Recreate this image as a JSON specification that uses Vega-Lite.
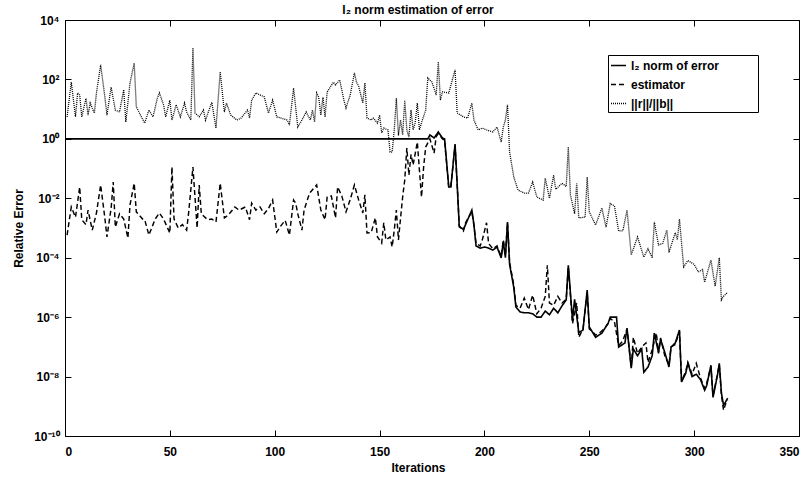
{
"$schema": "https://vega.github.io/schema/vega-lite/v6.json",
"width": 734, "height": 416,
"autosize": {"type": "none"},
"padding": {"left": 65, "top": 20, "right": 7, "bottom": 51},
"background": "white",
"config": {
  "view": {"stroke": "black", "strokeWidth": 1},
  "font": "Liberation Sans",
  "axis": {"domain": false, "grid": false, "tickColor": "black", "tickSize": -6, "tickWidth": 1, "labelFont": "Liberation Sans", "labelFontSize": 12, "labelFontWeight": "bold", "labelColor": "black", "titleFont": "Liberation Sans", "titleFontSize": 12, "titleFontWeight": "bold", "titleColor": "black"}
},
"title": {"text": "l₂ norm estimation of error", "fontSize": 12, "fontWeight": "bold", "font": "Liberation Sans", "color": "black", "offset": -3, "dx": -14},
"data": {"values": [
{"s":"r","i":1,"v":5.5},{"s":"r","i":3,"v":81},{"s":"r","i":5,"v":5.5},{"s":"r","i":6,"v":35},{"s":"r","i":7,"v":30},{"s":"r","i":8,"v":5.5},{"s":"r","i":10,"v":23},{"s":"r","i":11,"v":6.3},{"s":"r","i":12,"v":16},{"s":"r","i":14,"v":7.4},{"s":"r","i":15,"v":35},{"s":"r","i":17,"v":310},{"s":"r","i":19,"v":26},{"s":"r","i":20,"v":6.3},{"s":"r","i":22,"v":55},{"s":"r","i":24,"v":9.3},{"s":"r","i":26,"v":8},{"s":"r","i":28,"v":45},{"s":"r","i":29,"v":3.7},{"s":"r","i":31,"v":76},{"s":"r","i":33,"v":355},{"s":"r","i":34,"v":12},{"s":"r","i":36,"v":6.3},{"s":"r","i":38,"v":3.4},{"s":"r","i":40,"v":9.3},{"s":"r","i":42,"v":5.5},{"s":"r","i":44,"v":23},{"s":"r","i":45,"v":35},{"s":"r","i":47,"v":14},{"s":"r","i":48,"v":5.5},{"s":"r","i":50,"v":20},{"s":"r","i":51,"v":4.3},{"s":"r","i":53,"v":14},{"s":"r","i":55,"v":5.5},{"s":"r","i":57,"v":16},{"s":"r","i":58,"v":8},{"s":"r","i":60,"v":4.3},{"s":"r","i":61,"v":1150},{"s":"r","i":62,"v":7.4},{"s":"r","i":64,"v":5.5},{"s":"r","i":66,"v":9.3},{"s":"r","i":67,"v":4.3},{"s":"r","i":70,"v":17},{"s":"r","i":72,"v":2.3},{"s":"r","i":74,"v":180},{"s":"r","i":76,"v":8},{"s":"r","i":77,"v":16},{"s":"r","i":79,"v":6.3},{"s":"r","i":82,"v":4.3},{"s":"r","i":84,"v":5},{"s":"r","i":87,"v":9.3},{"s":"r","i":88,"v":5},{"s":"r","i":89,"v":20},{"s":"r","i":91,"v":35},{"s":"r","i":93,"v":30},{"s":"r","i":95,"v":26},{"s":"r","i":97,"v":7.4},{"s":"r","i":99,"v":20},{"s":"r","i":101,"v":5.5},{"s":"r","i":103,"v":5},{"s":"r","i":106,"v":4.3},{"s":"r","i":107,"v":2.9},{"s":"r","i":109,"v":51},{"s":"r","i":111,"v":2.5},{"s":"r","i":113,"v":4.3},{"s":"r","i":115,"v":8},{"s":"r","i":117,"v":4.3},{"s":"r","i":118,"v":9.3},{"s":"r","i":119,"v":3.7},{"s":"r","i":120,"v":35},{"s":"r","i":121,"v":25},{"s":"r","i":122,"v":6.3},{"s":"r","i":123,"v":25},{"s":"r","i":124,"v":5.5},{"s":"r","i":125,"v":38},{"s":"r","i":128,"v":81},{"s":"r","i":129,"v":65},{"s":"r","i":131,"v":96},{"s":"r","i":133,"v":20},{"s":"r","i":134,"v":11},{"s":"r","i":136,"v":30},{"s":"r","i":138,"v":165},{"s":"r","i":139,"v":81},{"s":"r","i":140,"v":60},{"s":"r","i":142,"v":16},{"s":"r","i":143,"v":76},{"s":"r","i":144,"v":5},{"s":"r","i":146,"v":4.3},{"s":"r","i":147,"v":5},{"s":"r","i":149,"v":3.4},{"s":"r","i":150,"v":6.3},{"s":"r","i":151,"v":1.6},{"s":"r","i":152,"v":2.3},{"s":"r","i":154,"v":2},{"s":"r","i":155,"v":0.36},{"s":"r","i":156,"v":0.36},{"s":"r","i":157,"v":2},{"s":"r","i":158,"v":23},{"s":"r","i":159,"v":1.3},{"s":"r","i":160,"v":4.3},{"s":"r","i":161,"v":1.35},{"s":"r","i":162,"v":20},{"s":"r","i":163,"v":2},{"s":"r","i":164,"v":1.15},{"s":"r","i":165,"v":9.3},{"s":"r","i":166,"v":2},{"s":"r","i":167,"v":3.5},{"s":"r","i":168,"v":16},{"s":"r","i":169,"v":2},{"s":"r","i":170,"v":3.5},{"s":"r","i":172,"v":9.3},{"s":"r","i":173,"v":112},{"s":"r","i":175,"v":81},{"s":"r","i":177,"v":30},{"s":"r","i":178,"v":390},{"s":"r","i":179,"v":20},{"s":"r","i":180,"v":38},{"s":"r","i":183,"v":35},{"s":"r","i":186,"v":210},{"s":"r","i":187,"v":7.4},{"s":"r","i":190,"v":5.5},{"s":"r","i":192,"v":5},{"s":"r","i":194,"v":16},{"s":"r","i":195,"v":4.3},{"s":"r","i":197,"v":2},{"s":"r","i":199,"v":2.3},{"s":"r","i":201,"v":2},{"s":"r","i":204,"v":1.7},{"s":"r","i":206,"v":2.5},{"s":"r","i":208,"v":0.78},{"s":"r","i":209,"v":2.5},{"s":"r","i":210,"v":4.3},{"s":"r","i":211,"v":14},{"s":"r","i":212,"v":0.36},{"s":"r","i":214,"v":0.052},{"s":"r","i":216,"v":0.019},{"s":"r","i":219,"v":0.015},{"s":"r","i":221,"v":0.015},{"s":"r","i":223,"v":0.035},{"s":"r","i":225,"v":0.011},{"s":"r","i":228,"v":0.0087},{"s":"r","i":229,"v":0.048},{"s":"r","i":231,"v":0.01},{"s":"r","i":233,"v":0.06},{"s":"r","i":234,"v":0.02},{"s":"r","i":237,"v":0.032},{"s":"r","i":239,"v":0.025},{"s":"r","i":240,"v":0.53},{"s":"r","i":241,"v":0.013},{"s":"r","i":243,"v":0.003},{"s":"r","i":244,"v":0.032},{"s":"r","i":245,"v":0.0022},{"s":"r","i":248,"v":0.0023},{"s":"r","i":249,"v":0.052},{"s":"r","i":250,"v":0.0035},{"s":"r","i":253,"v":0.00126},{"s":"r","i":256,"v":0.0047},{"s":"r","i":258,"v":0.00107},{"s":"r","i":260,"v":0.0067},{"s":"r","i":262,"v":0.0055},{"s":"r","i":264,"v":0.0008},{"s":"r","i":266,"v":0.0008},{"s":"r","i":268,"v":0.004},{"s":"r","i":270,"v":0.000124},{"s":"r","i":273,"v":0.0005},{"s":"r","i":276,"v":0.000105},{"s":"r","i":278,"v":0.0002},{"s":"r","i":280,"v":0.0001},{"s":"r","i":281,"v":0.0016},{"s":"r","i":283,"v":0.00027},{"s":"r","i":285,"v":0.0003},{"s":"r","i":287,"v":0.00085},{"s":"r","i":288,"v":0.00015},{"s":"r","i":291,"v":0.0007},{"s":"r","i":292,"v":0.0004},{"s":"r","i":293,"v":0.002},{"s":"r","i":295,"v":4.9e-5},{"s":"r","i":297,"v":8e-5},{"s":"r","i":300,"v":6e-5},{"s":"r","i":302,"v":3.3e-5},{"s":"r","i":304,"v":4e-5},{"s":"r","i":305,"v":1.5e-5},{"s":"r","i":308,"v":8.3e-5},{"s":"r","i":310,"v":1.1e-5},{"s":"r","i":312,"v":1e-4},{"s":"r","i":313,"v":3.8e-6},{"s":"r","i":314,"v":5e-6},{"s":"r","i":316,"v":6.9e-6},
{"s":"s","i":1,"v":0.00058},{"s":"s","i":3,"v":0.0051},{"s":"s","i":5,"v":0.0023},{"s":"s","i":7,"v":0.024},{"s":"s","i":8,"v":0.0019},{"s":"s","i":10,"v":0.0013},{"s":"s","i":11,"v":0.004},{"s":"s","i":13,"v":0.00085},{"s":"s","i":15,"v":0.0032},{"s":"s","i":17,"v":0.028},{"s":"s","i":19,"v":0.0022},{"s":"s","i":20,"v":0.0005},{"s":"s","i":22,"v":0.0047},{"s":"s","i":23,"v":0.035},{"s":"s","i":24,"v":0.00107},{"s":"s","i":26,"v":0.003},{"s":"s","i":28,"v":0.002},{"s":"s","i":30,"v":0.00046},{"s":"s","i":31,"v":0.006},{"s":"s","i":33,"v":0.032},{"s":"s","i":34,"v":0.0035},{"s":"s","i":37,"v":0.002},{"s":"s","i":38,"v":0.0019},{"s":"s","i":40,"v":0.00058},{"s":"s","i":43,"v":0.002},{"s":"s","i":45,"v":0.0032},{"s":"s","i":47,"v":0.002},{"s":"s","i":50,"v":0.00068},{"s":"s","i":51,"v":0.112},{"s":"s","i":52,"v":0.002},{"s":"s","i":54,"v":0.001},{"s":"s","i":56,"v":0.0013},{"s":"s","i":58,"v":0.00085},{"s":"s","i":59,"v":0.0035},{"s":"s","i":61,"v":0.112},{"s":"s","i":63,"v":0.001},{"s":"s","i":64,"v":0.028},{"s":"s","i":65,"v":0.003},{"s":"s","i":68,"v":0.0019},{"s":"s","i":70,"v":0.002},{"s":"s","i":72,"v":0.0016},{"s":"s","i":74,"v":0.032},{"s":"s","i":76,"v":0.0022},{"s":"s","i":78,"v":0.0028},{"s":"s","i":81,"v":0.0051},{"s":"s","i":83,"v":0.004},{"s":"s","i":86,"v":0.0051},{"s":"s","i":88,"v":0.0019},{"s":"s","i":89,"v":0.0069},{"s":"s","i":91,"v":0.004},{"s":"s","i":93,"v":0.0051},{"s":"s","i":95,"v":0.003},{"s":"s","i":97,"v":0.0045},{"s":"s","i":99,"v":0.0087},{"s":"s","i":101,"v":0.00073},{"s":"s","i":103,"v":0.0012},{"s":"s","i":105,"v":0.0018},{"s":"s","i":107,"v":0.00058},{"s":"s","i":109,"v":0.0087},{"s":"s","i":110,"v":0.0069},{"s":"s","i":111,"v":0.003},{"s":"s","i":113,"v":0.00085},{"s":"s","i":114,"v":0.004},{"s":"s","i":116,"v":0.011},{"s":"s","i":117,"v":0.016},{"s":"s","i":120,"v":0.028},{"s":"s","i":122,"v":0.004},{"s":"s","i":124,"v":0.0019},{"s":"s","i":125,"v":0.011},{"s":"s","i":127,"v":0.012},{"s":"s","i":129,"v":0.0022},{"s":"s","i":130,"v":0.024},{"s":"s","i":132,"v":0.012},{"s":"s","i":134,"v":0.0035},{"s":"s","i":136,"v":0.009},{"s":"s","i":138,"v":0.028},{"s":"s","i":140,"v":0.009},{"s":"s","i":142,"v":0.0032},{"s":"s","i":143,"v":0.013},{"s":"s","i":144,"v":0.00068},{"s":"s","i":146,"v":0.0007},{"s":"s","i":148,"v":0.0022},{"s":"s","i":149,"v":0.0005},{"s":"s","i":151,"v":0.00031},{"s":"s","i":152,"v":0.0015},{"s":"s","i":153,"v":0.0004},{"s":"s","i":155,"v":0.0005},{"s":"s","i":156,"v":0.00023},{"s":"s","i":157,"v":0.00085},{"s":"s","i":158,"v":0.004},{"s":"s","i":159,"v":0.0004},{"s":"s","i":161,"v":0.011},{"s":"s","i":162,"v":0.041},{"s":"s","i":163,"v":0.49},{"s":"s","i":164,"v":0.06},{"s":"s","i":165,"v":0.3},{"s":"s","i":166,"v":0.132},{"s":"s","i":168,"v":0.78},{"s":"s","i":169,"v":0.089},{"s":"s","i":170,"v":0.011},{"s":"s","i":171,"v":0.112},{"s":"s","i":172,"v":0.53},{"s":"s","i":174,"v":1.0},{"s":"s","i":176,"v":0.33},{"s":"s","i":177,"v":1.2},{"s":"s","i":178,"v":1.5},{"s":"s","i":180,"v":1.0},{"s":"s","i":181,"v":0.9},{"s":"s","i":183,"v":0.022},{"s":"s","i":184,"v":0.026},{"s":"s","i":186,"v":0.6},{"s":"s","i":187,"v":0.03},{"s":"s","i":188,"v":0.0012},{"s":"s","i":190,"v":0.0008},{"s":"s","i":191,"v":0.0015},{"s":"s","i":192,"v":0.002},{"s":"s","i":194,"v":0.0035},{"s":"s","i":195,"v":0.0012},{"s":"s","i":196,"v":0.0003},{"s":"s","i":198,"v":0.00025},{"s":"s","i":199,"v":0.0004},{"s":"s","i":201,"v":0.0015},{"s":"s","i":202,"v":0.0003},{"s":"s","i":204,"v":0.0002},{"s":"s","i":206,"v":0.00025},{"s":"s","i":208,"v":0.00011},{"s":"s","i":209,"v":0.0004},{"s":"s","i":210,"v":0.00012},{"s":"s","i":211,"v":0.0015},{"s":"s","i":212,"v":7e-5},{"s":"s","i":214,"v":1.2e-5},{"s":"s","i":215,"v":2.5e-6},{"s":"s","i":217,"v":2e-6},{"s":"s","i":219,"v":4.4e-6},{"s":"s","i":221,"v":1.8e-6},{"s":"s","i":223,"v":5.5e-6},{"s":"s","i":225,"v":1.3e-6},{"s":"s","i":227,"v":2e-6},{"s":"s","i":229,"v":5e-6},{"s":"s","i":230,"v":5.6e-5},{"s":"s","i":231,"v":3e-6},{"s":"s","i":233,"v":2.5e-6},{"s":"s","i":235,"v":5e-6},{"s":"s","i":237,"v":3e-6},{"s":"s","i":239,"v":4e-6},{"s":"s","i":240,"v":5e-5},{"s":"s","i":242,"v":6e-7},{"s":"s","i":244,"v":3e-6},{"s":"s","i":245,"v":2.1e-7},{"s":"s","i":247,"v":4e-7},{"s":"s","i":249,"v":7e-6},{"s":"s","i":250,"v":4e-7},{"s":"s","i":252,"v":3e-7},{"s":"s","i":253,"v":2.5e-7},{"s":"s","i":255,"v":3e-7},{"s":"s","i":257,"v":4e-7},{"s":"s","i":259,"v":6e-7},{"s":"s","i":260,"v":9e-7},{"s":"s","i":262,"v":7e-7},{"s":"s","i":264,"v":1.1e-7},{"s":"s","i":266,"v":1.6e-7},{"s":"s","i":268,"v":4e-7},{"s":"s","i":270,"v":2.2e-8},{"s":"s","i":271,"v":2.1e-7},{"s":"s","i":273,"v":6e-8},{"s":"s","i":275,"v":1e-7},{"s":"s","i":277,"v":1.35e-7},{"s":"s","i":278,"v":3e-8},{"s":"s","i":280,"v":8e-8},{"s":"s","i":282,"v":2.9e-7},{"s":"s","i":283,"v":6e-8},{"s":"s","i":284,"v":2e-7},{"s":"s","i":286,"v":5e-8},{"s":"s","i":288,"v":2.5e-8},{"s":"s","i":289,"v":1e-7},{"s":"s","i":291,"v":1.2e-7},{"s":"s","i":293,"v":3.3e-7},{"s":"s","i":294,"v":7e-9},{"s":"s","i":296,"v":1.5e-8},{"s":"s","i":297,"v":3e-8},{"s":"s","i":299,"v":1.2e-8},{"s":"s","i":301,"v":2.8e-8},{"s":"s","i":303,"v":9e-9},{"s":"s","i":305,"v":4e-9},{"s":"s","i":306,"v":6e-9},{"s":"s","i":308,"v":2.2e-8},{"s":"s","i":309,"v":2.2e-9},{"s":"s","i":311,"v":1.1e-8},{"s":"s","i":312,"v":2.5e-8},{"s":"s","i":313,"v":2.5e-9},{"s":"s","i":314,"v":7.4e-10},{"s":"s","i":315,"v":1.2e-9},{"s":"s","i":316,"v":1.6e-9},
{"s":"e","i":0,"v":1},{"s":"e","i":173,"v":1},{"s":"e","i":174,"v":1.35},{"s":"e","i":176,"v":1.07},{"s":"e","i":178,"v":1.7},{"s":"e","i":180,"v":1.07},{"s":"e","i":181,"v":1},{"s":"e","i":183,"v":0.024},{"s":"e","i":184,"v":0.024},{"s":"e","i":186,"v":0.67},{"s":"e","i":187,"v":0.03},{"s":"e","i":188,"v":0.0011},{"s":"e","i":190,"v":0.0009},{"s":"e","i":191,"v":0.0013},{"s":"e","i":192,"v":0.0019},{"s":"e","i":194,"v":0.004},{"s":"e","i":195,"v":0.0013},{"s":"e","i":196,"v":0.00025},{"s":"e","i":198,"v":0.00021},{"s":"e","i":200,"v":0.00023},{"s":"e","i":202,"v":0.00021},{"s":"e","i":204,"v":0.00018},{"s":"e","i":206,"v":0.00023},{"s":"e","i":208,"v":9.8e-5},{"s":"e","i":209,"v":0.00035},{"s":"e","i":210,"v":0.0001},{"s":"e","i":211,"v":0.0016},{"s":"e","i":212,"v":6e-5},{"s":"e","i":214,"v":1e-5},{"s":"e","i":215,"v":2.2e-6},{"s":"e","i":217,"v":1.5e-6},{"s":"e","i":219,"v":1.4e-6},{"s":"e","i":221,"v":1.4e-6},{"s":"e","i":223,"v":1.3e-6},{"s":"e","i":225,"v":1e-6},{"s":"e","i":227,"v":1e-6},{"s":"e","i":229,"v":1.6e-6},{"s":"e","i":231,"v":1.2e-6},{"s":"e","i":233,"v":2e-6},{"s":"e","i":235,"v":1.4e-6},{"s":"e","i":237,"v":2.4e-6},{"s":"e","i":239,"v":3.8e-6},{"s":"e","i":240,"v":5.6e-5},{"s":"e","i":242,"v":8e-7},{"s":"e","i":243,"v":4e-6},{"s":"e","i":245,"v":3e-7},{"s":"e","i":247,"v":3.7e-7},{"s":"e","i":249,"v":8.1e-6},{"s":"e","i":250,"v":4.7e-7},{"s":"e","i":253,"v":2.1e-7},{"s":"e","i":256,"v":2.9e-7},{"s":"e","i":259,"v":6.3e-7},{"s":"e","i":260,"v":1e-6},{"s":"e","i":263,"v":1e-6},{"s":"e","i":264,"v":9.8e-8},{"s":"e","i":267,"v":1.35e-7},{"s":"e","i":268,"v":4.3e-7},{"s":"e","i":270,"v":1.9e-8},{"s":"e","i":271,"v":8.5e-8},{"s":"e","i":273,"v":5e-8},{"s":"e","i":275,"v":8.5e-8},{"s":"e","i":276,"v":1.4e-8},{"s":"e","i":278,"v":2.1e-8},{"s":"e","i":280,"v":5e-8},{"s":"e","i":281,"v":2.9e-7},{"s":"e","i":283,"v":6.5e-8},{"s":"e","i":284,"v":1.8e-7},{"s":"e","i":286,"v":6.5e-8},{"s":"e","i":288,"v":2.1e-8},{"s":"e","i":289,"v":9.8e-8},{"s":"e","i":291,"v":1.35e-7},{"s":"e","i":293,"v":3.7e-7},{"s":"e","i":294,"v":6.6e-9},{"s":"e","i":296,"v":1.3e-8},{"s":"e","i":297,"v":2.8e-8},{"s":"e","i":299,"v":1e-8},{"s":"e","i":301,"v":1.2e-8},{"s":"e","i":303,"v":8e-9},{"s":"e","i":305,"v":3.5e-9},{"s":"e","i":306,"v":5e-9},{"s":"e","i":308,"v":2.4e-8},{"s":"e","i":309,"v":2e-9},{"s":"e","i":311,"v":1e-8},{"s":"e","i":312,"v":2.8e-8},{"s":"e","i":313,"v":2.8e-9},{"s":"e","i":314,"v":1.1e-9},{"s":"e","i":315,"v":1.4e-9},{"s":"e","i":316,"v":1.9e-9}
]},
"layer": [
  {
    "mark": {"type": "line", "color": "black", "clip": true},
    "encoding": {
      "x": {"field": "i", "type": "quantitative", "scale": {"domain": [0, 350], "nice": false},
            "axis": {"orient": "bottom", "values": [0,50,100,150,200,250,300,350], "labelPadding": 16, "title": "Iterations", "titleX": 353, "titleY": 31, "titleBaseline": "middle", "titleAlign": "center"}},
      "y": {"field": "v", "type": "quantitative", "scale": {"type": "log", "domain": [1e-10, 10000], "nice": false},
            "axis": {"orient": "left", "values": [1e-10,1e-8,1e-6,1e-4,1e-2,1,100,10000], "labelPadding": 12,
                     "labelExpr": "datum.value >= 5000 ? '10⁴' : datum.value >= 50 ? '10²' : datum.value >= 0.5 ? '10⁰' : datum.value >= 0.005 ? '10⁻²' : datum.value >= 5e-5 ? '10⁻⁴' : datum.value >= 5e-7 ? '10⁻⁶' : datum.value >= 5e-9 ? '10⁻⁸' : '10⁻¹⁰'",
                     "title": "Relative Error", "titleX": -47, "titleY": 208, "titleBaseline": "middle", "titleAlign": "center", "titleAngle": -90}},
      "strokeDash": {"field": "s", "type": "nominal", "scale": {"domain": ["e", "s", "r"], "range": [[1, 0], [5, 3], [1, 1]]},
                     "legend": {"orient": "none", "legendX": 543, "legendY": 35, "title": null, "strokeColor": "black", "fillColor": "white", "padding": 2, "symbolType": "stroke", "symbolSize": 225, "symbolStrokeColor": "black", "symbolStrokeWidth": 1.3, "labelFont": "Liberation Sans", "labelFontSize": 12, "labelFontWeight": "bold", "labelColor": "black", "rowPadding": 4, "labelOffset": 4,
                                "labelExpr": "datum.value == 'e' ? 'l₂ norm of error⠀⠀⠀⠀' : datum.value == 's' ? 'estimator' : '||r||/||b||'"}},
      "strokeWidth": {"field": "s", "type": "nominal", "scale": {"domain": ["e", "s", "r"], "range": [1.6, 1.3, 1.1]}, "legend": null}
    }
  },
  {
    "mark": {"type": "line", "opacity": 0},
    "encoding": {
      "x": {"field": "i", "type": "quantitative", "axis": {"orient": "top", "values": [0,50,100,150,200,250,300,350], "labels": false, "title": null}},
      "y": {"field": "v", "type": "quantitative", "axis": {"orient": "right", "values": [1e-10,1e-8,1e-6,1e-4,1e-2,1,100,10000], "labels": false, "title": null}},
      "detail": {"field": "s"}
    }
  }
],
"resolve": {"axis": {"x": "independent", "y": "independent"}}
}
